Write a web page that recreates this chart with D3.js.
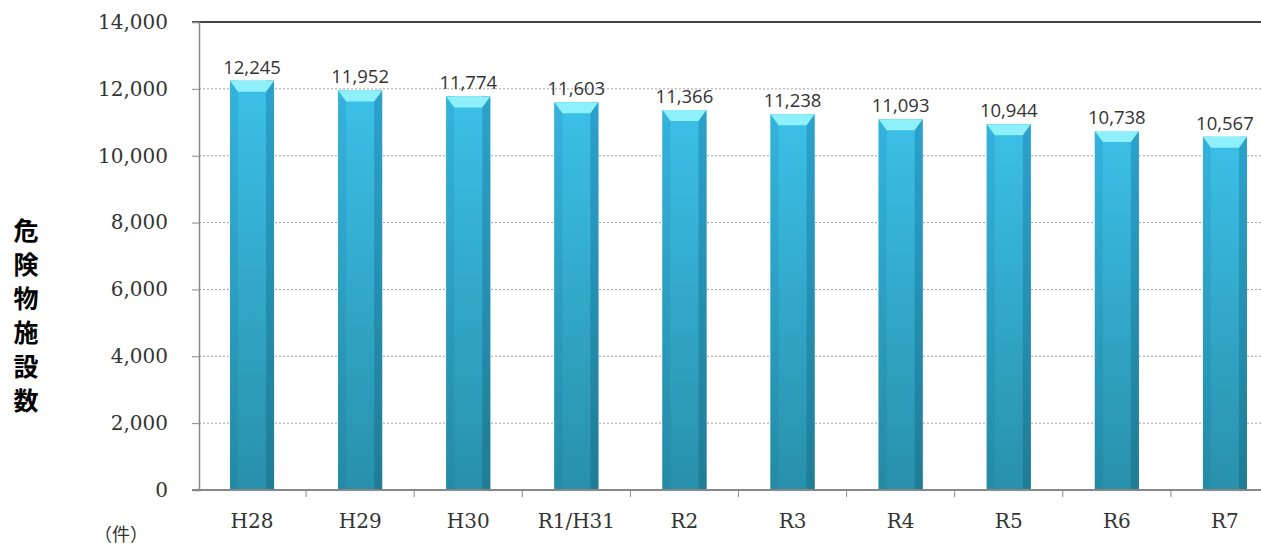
<!DOCTYPE html>
<html><head><meta charset="utf-8">
<script src="https://cdn.jsdelivr.net/npm/d3@7"></script>
<style>body{margin:0;background:#fff;overflow:hidden}</style>
</head><body><svg id="c" width="1261" height="550"></svg>
<script>
const categories = ["H28","H29","H30","R1/H31","R2","R3","R4","R5","R6","R7"];
const values = [12245,11952,11774,11603,11366,11238,11093,10944,10738,10567];
const yTicks = [0,2000,4000,6000,8000,10000,12000,14000];
const yTitle = "危険物施設数";
const unitLabel = "（件）";

const svg = d3.select("#c");
const x = d3.scaleBand().domain(categories).range([198, 1279]).paddingInner(0).paddingOuter(0);
const y = d3.scaleLinear().domain([0, 14000]).range([490, 22]);
const defs = svg.append("defs");
function grad(id, c0, c1){
  const g = defs.append("linearGradient").attr("id",id).attr("x1",0).attr("y1",0).attr("x2",0).attr("y2",1);
  g.append("stop").attr("offset",0).attr("stop-color",c0);
  g.append("stop").attr("offset",1).attr("stop-color",c1);
}
grad("gv","#3cc0e8","#2890ab");
grad("gl","#34b3de","#248aa4");
grad("gr","#2ba2cd","#1f7c95");

// gridlines
svg.append("g").selectAll("line").data(yTicks.filter(d=>d>0 && d<14000)).join("line")
  .attr("x1",199).attr("x2",1261).attr("y1",d=>y(d)).attr("y2",d=>y(d))
  .attr("stroke","#a0a0a0").attr("stroke-width",1).attr("stroke-dasharray","2,2");

// top border
svg.append("line").attr("x1",192).attr("x2",1261).attr("y1",y(14000)).attr("y2",y(14000))
  .attr("stroke","#444").attr("stroke-width",2);

// y axis
const yAxis = svg.append("g").attr("transform","translate(199,0)")
  .call(d3.axisLeft(y).tickValues(yTicks).tickSize(7).tickPadding(24).tickFormat(d3.format(",")));
yAxis.select(".domain").attr("stroke","#888").attr("stroke-width",1.5);
yAxis.selectAll(".tick line").attr("stroke","#888");
yAxis.selectAll("text").attr("font-family","'DejaVu Serif',serif")
  .attr("font-size",20).attr("fill","#333");

// bars
const bw = 44, bev = 8, capH = 11;
const bars = svg.append("g").selectAll("g").data(categories).join("g");
bars.each(function(c,i){
  const gg = d3.select(this);
  const cx = x(c) + x.bandwidth()/2;
  const x0 = cx - bw/2, x1 = cx + bw/2;
  const top = y(values[i]), bot = y(0);
  gg.append("rect").attr("x",x0).attr("y",top).attr("width",bw).attr("height",bot-top).attr("fill","url(#gv)");
  gg.append("rect").attr("x",x0).attr("y",top).attr("width",bev).attr("height",bot-top).attr("fill","url(#gl)");
  gg.append("rect").attr("x",x1-bev).attr("y",top).attr("width",bev).attr("height",bot-top).attr("fill","url(#gr)");
  gg.append("path").attr("d",`M${x0},${top} L${x1},${top} L${x1-bev},${top+capH} L${x0+bev},${top+capH} Z`)
    .attr("fill","#8df0fb");
  gg.append("text").attr("x",cx).attr("y",top-7).attr("text-anchor","middle")
    .attr("font-family","'Open Sans','Liberation Sans',sans-serif").attr("font-size",18.5)
    .attr("fill","#333").text(d3.format(",")(values[i]));
});

// x axis
const xAxis = svg.append("g").attr("transform","translate(0,490)")
  .call(d3.axisBottom(x).tickSize(0).tickPadding(24));
xAxis.select(".domain").remove();
svg.append("line").attr("x1",192).attr("x2",1261).attr("y1",490).attr("y2",490).attr("stroke","#888").attr("stroke-width",2);
svg.append("g").selectAll("line").data(categories.slice(1)).join("line")
  .attr("x1",d=>x(d)).attr("x2",d=>x(d)).attr("y1",490).attr("y2",497).attr("stroke","#888");
xAxis.selectAll("text").attr("font-family","'DejaVu Serif',serif")
  .attr("font-size",20).attr("fill","#333").attr("dy","0.71em");

svg.append("text").attr("x",94).attr("y",541).attr("font-family","'Noto Sans CJK JP',serif")
  .attr("font-size",18).attr("fill","#333").text(unitLabel);

// vertical title
svg.append("g").selectAll("text").data(Array.from(yTitle)).join("text")
  .attr("x",26).attr("y",(d,i)=>229+i*34).attr("text-anchor","middle")
  .attr("font-family","'Noto Sans CJK JP',sans-serif").attr("font-weight","bold")
  .attr("font-size",25).attr("fill","#000").attr("dominant-baseline","central").text(d=>d);
</script></body></html>
